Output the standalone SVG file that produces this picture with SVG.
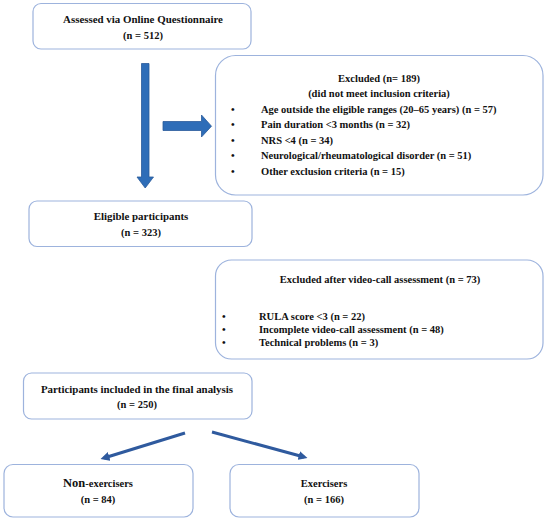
<svg xmlns="http://www.w3.org/2000/svg" width="550" height="523" viewBox="0 0 550 523">
<style>
.box{fill:#fff;stroke:#9DB3DD;stroke-width:1.2}
.t{font-family:"Liberation Serif","Times New Roman",serif;font-weight:bold;font-size:10.5px;fill:#111}
.h{font-size:10.9px}
.c{text-anchor:middle}
.fat{fill:#2E6DB8;stroke:#2A5A9A;stroke-width:0.8}
.ln{stroke:#2F5A9E;stroke-width:3;fill:none}
</style>
<defs>
<marker id="ah" viewBox="0 0 10 10" refX="6" refY="5" markerWidth="3" markerHeight="3" orient="auto">
<path d="M0,0 L10,5 L0,10 z" fill="#2F5A9E"/>
</marker>
</defs>
<rect width="550" height="523" fill="#fff"/>
<g id="assessed">
<rect class="box" x="33" y="3.5" width="218" height="45.5" rx="8"/>
<text class="t h c" x="143" y="23">Assessed via Online Questionnaire</text>
<text class="t c" x="143" y="39">(n = 512)</text>
</g>
<g id="excluded1">
<rect class="box" x="215.5" y="55.5" width="327.5" height="139.5" rx="20"/>
<text class="t c" x="379" y="82">Excluded (n= 189)</text>
<text class="t c" x="379" y="97">(did not meet inclusion criteria)</text>
<text class="t" x="231" y="113">•</text><text class="t" x="261" y="113">Age outside the eligible ranges (20–65 years) (n = 57)</text>
<text class="t" x="231" y="128">•</text><text class="t" x="261" y="128">Pain duration &lt;3 months (n = 32)</text>
<text class="t" x="231" y="143.5">•</text><text class="t" x="261" y="143.5">NRS &lt;4 (n = 34)</text>
<text class="t" x="231" y="159">•</text><text class="t" x="261" y="159"> Neurological/rheumatological disorder (n = 51)</text>
<text class="t" x="231" y="175">•</text><text class="t" x="261" y="175">Other exclusion criteria (n = 15)</text>
</g>
<g id="eligible">
<rect class="box" x="29" y="201" width="223" height="45.5" rx="8"/>
<text class="t h c" x="141" y="220">Eligible participants</text>
<text class="t c" x="141" y="236">(n = 323)</text>
</g>
<g id="excluded2">
<rect class="box" x="215.5" y="260" width="327.5" height="99" rx="16"/>
<text class="t c" x="380" y="283">Excluded after video-call assessment (n = 73)</text>
<text class="t" x="222" y="320">•</text><text class="t" x="259" y="320">RULA score &lt;3 (n = 22)</text>
<text class="t" x="222" y="333">•</text><text class="t" x="259" y="333">Incomplete video-call assessment (n = 48)</text>
<text class="t" x="222" y="346">•</text><text class="t" x="259" y="346">Technical problems (n = 3)</text>
</g>
<g id="final">
<rect class="box" x="23.5" y="373" width="228.5" height="46" rx="8"/>
<text class="t h c" x="137" y="393">Participants included in the final analysis</text>
<text class="t c" x="137" y="408">(n = 250)</text>
</g>
<g id="nonexercisers">
<rect class="box" x="4" y="464.5" width="189" height="52.5" rx="9"/>
<text class="t c" x="98" y="487"><tspan font-size="12.5px">Non</tspan>-exercisers</text>
<text class="t c" x="98" y="503">(n = 84)</text>
</g>
<g id="exercisers">
<rect class="box" x="230" y="464.5" width="189" height="52.5" rx="9"/>
<text class="t c" x="324" y="487">Exercisers</text>
<text class="t c" x="324" y="503">(n = 166)</text>
</g>
<g id="connectors">
<path class="fat" d="M141.5,63.5 H149 V177 H153.5 L145.2,188 L137,177 H141.5 Z"/>
<path class="fat" d="M163,121.5 H201.5 V115 L211.5,126.2 L201.5,137 V130.5 H163 Z"/>
<line class="ln" x1="185" y1="433" x2="104" y2="458" marker-end="url(#ah)"/>
<line class="ln" x1="212" y1="432" x2="304" y2="457" marker-end="url(#ah)"/>
</g>
</svg>
